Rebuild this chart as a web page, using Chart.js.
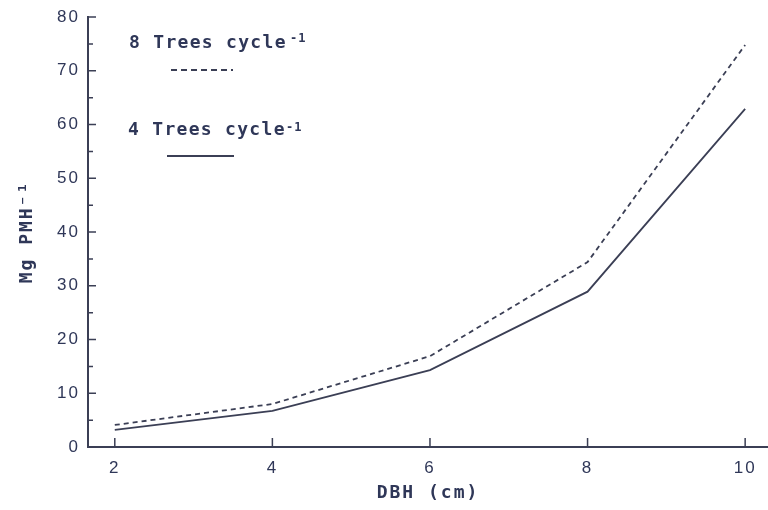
<!DOCTYPE html>
<html>
<head>
<meta charset="utf-8">
<script src="https://cdn.jsdelivr.net/npm/chart.js@4.4.0/dist/chart.umd.min.js"></script>
<style>
  html, body { margin: 0; padding: 0; background: #fff; }
  #wrap { width: 768px; height: 510px; }
</style>
</head>
<body>
<div id="wrap"><canvas id="chart" width="768" height="510"></canvas></div>
<script>
// values
const dbh = [2, 4, 6, 8, 10];
const eightTrees = [4.1, 8.0, 16.9, 34.4, 74.8];
const fourTrees = [3.2, 6.7, 14.3, 28.9, 62.9];
const yTicks = [0, 10, 20, 30, 40, 50, 60, 70, 80];
const yMinorTicks = [5, 15, 25, 35, 45, 55, 65, 75];
const xTicks = [2, 4, 6, 8, 10];

const ink = '#3b3f55';
const textInk = '#2f3758';

// inward tick marks + the hand-placed legend text
const decorations = {
    id: 'decorations',
    beforeDraw(chart) {
        chart.ctx.letterSpacing = '2px';
    },
    afterDraw(chart) {
        const ctx = chart.ctx;
        const x = chart.scales.x, y = chart.scales.y;
        const area = chart.chartArea;
        ctx.save();
        ctx.letterSpacing = '0px';
        ctx.strokeStyle = ink;
        ctx.lineWidth = 1.5;
        ctx.beginPath();
        yTicks.forEach(v => {
            const py = y.getPixelForValue(v);
            ctx.moveTo(area.left, py);
            ctx.lineTo(area.left + 8, py);
        });
        yMinorTicks.forEach(v => {
            const py = y.getPixelForValue(v);
            ctx.moveTo(area.left, py);
            ctx.lineTo(area.left + 5, py);
        });
        xTicks.forEach(v => {
            const px = x.getPixelForValue(v);
            ctx.moveTo(px, area.bottom);
            ctx.lineTo(px, area.bottom - 9);
        });
        ctx.stroke();

        // legend
        ctx.fillStyle = textInk;
        ctx.letterSpacing = '1.3px';
        ctx.textBaseline = 'alphabetic';
        ctx.font = 'bold 18px "DejaVu Sans Mono"';
        ctx.fillText('8 Trees cycle', 129, 48);
        ctx.fillText('4 Trees cycle', 128, 135);
        ctx.font = 'bold 12px "DejaVu Sans Mono"';
        ctx.letterSpacing = '1px';
        ctx.fillText('-1', 290, 42);
        ctx.fillText('-1', 286, 131);

        ctx.lineWidth = 1.8;
        ctx.strokeStyle = ink;
        ctx.setLineDash([6, 4]);
        ctx.beginPath();
        ctx.moveTo(171, 70);
        ctx.lineTo(233, 70);
        ctx.stroke();
        ctx.setLineDash([]);
        ctx.beginPath();
        ctx.moveTo(167, 156);
        ctx.lineTo(234, 156);
        ctx.stroke();
        ctx.restore();
        ctx.letterSpacing = '0px';
    }
};

new Chart(document.getElementById('chart'), {
    type: 'line',
    data: {
        labels: dbh,
        datasets: [
            {
                label: '8 Trees cycle-1',
                data: dbh.map((d, i) => ({ x: d, y: eightTrees[i] })),
                borderColor: ink,
                borderWidth: 1.8,
                borderDash: [5, 4],
                pointRadius: 0,
                tension: 0
            },
            {
                label: '4 Trees cycle-1',
                data: dbh.map((d, i) => ({ x: d, y: fourTrees[i] })),
                borderColor: ink,
                borderWidth: 1.8,
                pointRadius: 0,
                tension: 0
            }
        ]
    },
    options: {
        responsive: false,
        animation: false,
        layout: { padding: { top: 17, right: 0, left: 0, bottom: 0 } },
        plugins: {
            legend: { display: false },
            tooltip: { enabled: false }
        },
        scales: {
            x: {
                type: 'linear',
                min: 1.66,
                max: 10.29,
                afterBuildTicks: s => { s.ticks = xTicks.map(v => ({ value: v })); },
                afterFit: s => { s.height = 63; },
                grid: { display: false },
                border: { display: true, color: ink, width: 2 },
                ticks: {
                    color: textInk,
                    padding: 3,
                    maxRotation: 0,
                    font: { family: 'Liberation Sans', size: 17, weight: '500' }
                },
                title: {
                    display: true,
                    text: 'DBH (cm)',
                    color: textInk,
                    padding: { top: 6, bottom: 6 },
                    font: { family: 'DejaVu Sans Mono', size: 18, weight: 'bold' }
                }
            },
            y: {
                min: 0,
                max: 80,
                afterBuildTicks: s => { s.ticks = yTicks.map(v => ({ value: v })); },
                afterFit: s => { s.width = 88; },
                grid: { display: false },
                border: { display: true, color: ink, width: 2 },
                ticks: {
                    color: textInk,
                    padding: 0,
                    font: { family: 'Liberation Sans', size: 17, weight: '500' }
                },
                title: {
                    display: true,
                    text: 'Mg PMH⁻¹',
                    color: textInk,
                    padding: { top: 17, bottom: 4 },
                    font: { family: 'DejaVu Sans Mono', size: 18, weight: 'bold' }
                }
            }
        }
    },
    plugins: [decorations]
});
</script>
</body>
</html>
